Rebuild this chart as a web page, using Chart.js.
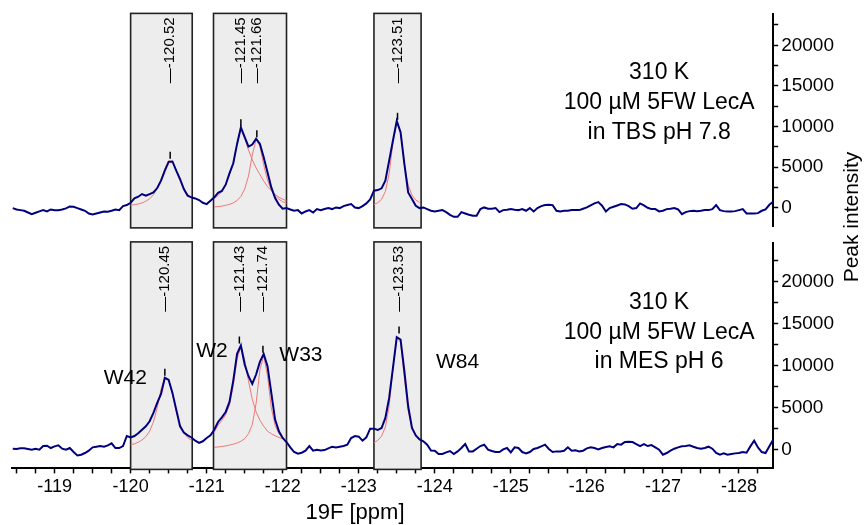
<!DOCTYPE html>
<html lang="en">
<head>
<meta charset="UTF-8">
<title>19F NMR of 5FW LecA</title>
<style>
  html, body { margin: 0; padding: 0; background: #fff; }
  #wrap { position: relative; width: 868px; height: 525px; }
</style>
<script src="https://cdn.jsdelivr.net/npm/chart.js"></script>
</head>
<body>
<div id="wrap"><canvas id="nmr" width="868" height="525"></canvas></div>
<script>
const FONT = 'Arial, "Liberation Sans", sans-serif';

// both spectra sampled every 0.05 ppm starting at -118.45 ppm
const ppmStart = -118.45;
const ppmStep = -0.05;

// top spectrum: TBS pH 7.8
const tbsIntensity = [
  -40, -210, -290, -370, -580, -780, -620, -450, -290, -450,
  -210, -290, -290, -210, -80, 160, 120, -40, -210, -370,
  -700, -820, -700, -580, -450, -490, -370, -210, -290, 210,
  330, 620,
  1150, 1360, 1690, 1480, 1690, 1890, 2430, 3340, 4570, 5650,
  5700, 4570, 3540, 2310, 1480, 1280, 1150, 950, 620, 450,
  870, 1280, 1850, 2060, 2840, 4240, 5480, 7860, 9900, 8690,
  7530, 7780, 8500, 7860, 6210, 4360, 2510, 1190, 370, -120,
  -40, -210, -370, -290, -700, -450, -290, -580, -160, -290,
  -160, -40, -160, 40, -40, 210, 330, 450, 40, -40,
  210, 540, 1030, 2100, 2180, 2390, 3340, 5800, 8280, 10700,
  9300, 5390, 1890, 1070, 240, -40, 40, -160, -370, -450,
  -370, -288, -535, -865, -1111, -1111, -535, -700, -865, -988,
  -988, -165, 41, -123, -123, -41, -535, -288, -247, -165,
  -247, -288, -165, -370, -41, -453, -41, 206, 329, 370,
  329, -370, -453, -370, -370, -288, -288, -288, -123, 41,
  288, 535, 700, 247, -453, -41, 123, 288, 453, 412,
  206, -123, -41, 535, 288, 0, -165, -165, -453, -370,
  -165, -123, -41, -206, -782, -535, -412, -370, -412, -370,
  -288, -288, -165, 329, -288, -412, -453, -453, -412, -288,
  -165, -700, -700, -700, -659, -370, -206, 370, 750
];

// bottom spectrum: MES pH 6
const mesIntensity = [
  115, 76, 155, 155, 76, -4, 115, -4, 433, 473,
  195, 394, 513, 115, -4, 195, -282, -680, -600, -400,
  -123, 274, 354, 433, 354, 513, 752, 195, 195, 433,
  1627, 1467,
  1630, 1950, 2380, 2780, 3380, 4370, 5560, 6640, 8550, 8300,
  6760, 4770, 2780, 2030, 1700, 1450, 1070, 800, 1000, 1390,
  1700, 2380, 3300, 3850, 4490, 5680, 8230, 11410, 12400, 10140,
  8750, 7830, 8950, 10450, 11400, 9940, 6760, 3580, 2180, 1390,
  910, 274, -282, -480, -362, -123, 433, -123, -4, -84,
  -44, 155, 354, 274, 354, 433, 593, 1388, 1627, 1547,
  1070, 1467, 2500, 2500, 2340, 2580, 3780, 6160, 9740, 13400,
  13120, 9340, 5170, 2580, 1700, 1230, 990, 590, -100, -123,
  -520, -520, -322, -163, -520, -203, 195, 672, -203, -203,
  115, 433, 593, -4, -163, -282, -282, 36, 195, -322,
  274, 195, -282, -441, -282, 76, 195, 394, 593, 76,
  -282, -203, -203, -123, 274, -123, -84, -203, -123, 155,
  274, 195, 36, 195, 314, 394, 274, 672, 593, 911,
  950, 911, 672, 433, 672, 433, 553, 274, -4, -600,
  -400, -123, 115, 274, 394, 433, 513, 354, 195, 115,
  195, 354, 115, -400, -600, -441, -600, -520, -441, -400,
  -282, -362, 394, 1070, 274, -282, -400, 394, 1190
];

// deconvolution fits (Lorentzian lines) inside the three integration regions
const fitPpm1 = [-120.00, -120.05, -120.10, -120.15, -120.20, -120.25, -120.30, -120.35, -120.40,
  -120.45, -120.50, -120.55, -120.60, -120.65, -120.70, -120.75, -120.80];
const fitPpm2 = [-121.10, -121.15, -121.20, -121.25, -121.30, -121.35, -121.40, -121.45, -121.50, -121.55,
  -121.60, -121.65, -121.70, -121.75, -121.80, -121.85, -121.90, -121.95, -122.00, -122.05];
const fitPpm3 = [-123.20, -123.25, -123.30, -123.35, -123.40, -123.45, -123.50, -123.55, -123.60,
  -123.65, -123.70, -123.75, -123.80];

const tbsFit1 = [300, 380, 470, 600, 800, 1100, 1600, 2400, 3500, 4800, 5800, 5700, 4600, 3300, 2300, 1650, 1200];
const tbsFit2a = [1150, 1500, 2000, 2800, 4100, 5500, 7800, 9700, 8600, 7100, 5900, 4900, 4100, 3300, 2600, 2100, 1650, 1300, 1050, 850];
const tbsFit2b = [100, 150, 200, 300, 420, 600, 900, 1400, 2300, 3900, 6500, 8400, 7600, 5300, 3400, 2200, 1500, 1050, 750, 550];
const tbsFit3 = [400, 620, 1050, 2000, 4200, 8000, 10600, 9200, 5300, 2800, 1550, 950, 650];

const mesFit1 = [580, 700, 880, 1150, 1550, 2200, 3300, 5000, 7200, 8600, 8400, 6600, 4500, 3000, 2050, 1450, 1080];
const mesFit2a = [2100, 2900, 3500, 4150, 5300, 7600, 10800, 12300, 10700, 8200, 6000, 4500, 3500, 2800, 2200, 1900, 1650, 1450, 1300, 1150];
const mesFit2b = [270, 320, 380, 450, 540, 650, 800, 1000, 1300, 1900, 3000, 5500, 9500, 11200, 8800, 5000, 2900, 1900, 1350, 1000];
const mesFit3 = [800, 1100, 1600, 2700, 5200, 9800, 13300, 12800, 8500, 4600, 2600, 1650, 1150];

// picked peaks
const tbsPeakPpm = [-120.52, -121.45, -121.66, -123.51];
const tbsPeakHeight = [5900, 9900, 8560, 10700];
const mesPeakPpm = [-120.45, -121.43, -121.74, -123.53];
const mesPeakHeight = [8670, 12520, 11410, 13720];

// integration regions (ppm)
const regionFrom = [-120.00, -121.09, -123.20];
const regionTo = [-120.81, -122.05, -123.82];

// axis ticks (labels only on whole ppm / every 5000)
const ppmTicks = [-118.5, -118.75, -119, -119.25, -119.5, -119.75, -120, -120.25, -120.5, -120.75,
  -121, -121.25, -121.5, -121.75, -122, -122.25, -122.5, -122.75, -123, -123.25, -123.5, -123.75,
  -124, -124.25, -124.5, -124.75, -125, -125.25, -125.5, -125.75, -126, -126.25, -126.5, -126.75,
  -127, -127.25, -127.5, -127.75, -128, -128.25];
const intensityTicks = [0, 2500, 5000, 7500, 10000, 12500, 15000, 17500, 20000, 22500];

const tbsLabel = ['310 K', '100 µM 5FW LecA', 'in TBS pH 7.8'];
const mesLabel = ['310 K', '100 µM 5FW LecA', 'in MES pH 6'];
const residues = ['W42', 'W2', 'W33', 'W84'];

const ppmAxis = tbsIntensity.map((_, i) => +(ppmStart + i * ppmStep).toFixed(2));
const pts = (xs, ys) => ys.map((v, i) => ({x: xs[i], y: v}));

function trace(data, axis, color, width) {
  return {data, yAxisID: axis, borderColor: color, borderWidth: width,
    pointRadius: 0, fill: false, tension: 0};
}

const NAVY = '#00007f';
const FIT = '#f07878';

const datasets = [
  trace(pts(ppmAxis, tbsIntensity), 'yT', NAVY, 2),
  trace(pts(ppmAxis, mesIntensity), 'yB', NAVY, 2),
  trace(pts(fitPpm1, tbsFit1), 'yT', FIT, 1),
  trace(pts(fitPpm2, tbsFit2a), 'yT', FIT, 1),
  trace(pts(fitPpm2, tbsFit2b), 'yT', FIT, 1),
  trace(pts(fitPpm3, tbsFit3), 'yT', FIT, 1),
  trace(pts(fitPpm1, mesFit1), 'yB', FIT, 1),
  trace(pts(fitPpm2, mesFit2a), 'yB', FIT, 1),
  trace(pts(fitPpm2, mesFit2b), 'yB', FIT, 1),
  trace(pts(fitPpm3, mesFit3), 'yB', FIT, 1)
];

const isWhole = (v, step) => Math.abs(v / step - Math.round(v / step)) < 1e-6;

function intensityAxis(weight, min, max) {
  return {
    type: 'linear', position: 'right', stack: 'panels', stackWeight: weight,
    min, max,
    afterBuildTicks: axis => { axis.ticks = intensityTicks.map(value => ({value})); },
    border: {color: '#000', width: 2},
    grid: {drawOnChartArea: false, tickLength: 5, tickColor: '#000', tickWidth: 1.5},
    ticks: {
      autoSkip: false, padding: 3,
      color: '#000', font: {family: FONT, size: 19},
      callback: v => isWhole(v, 5000) ? String(v) : ''
    }
  };
}

const decor = {
  id: 'decor',
  beforeDatasetsDraw(chart) {
    const {ctx} = chart;
    const x = chart.scales.x;
    ['yT', 'yB'].forEach(id => {
      const y = chart.scales[id];
      regionFrom.forEach((from, i) => {
        const x0 = x.getPixelForValue(from);
        const x1 = x.getPixelForValue(regionTo[i]);
        ctx.save();
        ctx.fillStyle = '#ededed';
        ctx.fillRect(x0, y.top - 1, x1 - x0, y.bottom - y.top + 2);
        ctx.strokeStyle = '#222';
        ctx.lineWidth = 1.6;
        ctx.strokeRect(x0, y.top - 1, x1 - x0, y.bottom - y.top + 2);
        ctx.restore();
      });
    });
  },
  afterDatasetsDraw(chart) {
    const {ctx} = chart;
    const x = chart.scales.x;
    const panels = [['yT', tbsPeakPpm, tbsPeakHeight], ['yB', mesPeakPpm, mesPeakHeight]];
    panels.forEach(([id, ppm, height]) => {
      const y = chart.scales[id];
      ppm.forEach((p, i) => {
        const px = x.getPixelForValue(p);
        const py = y.getPixelForValue(height[i]);
        ctx.save();
        ctx.strokeStyle = '#000';
        ctx.lineWidth = 1.5;
        ctx.beginPath();
        ctx.moveTo(px, py - 1);
        ctx.lineTo(px, py - 8);
        ctx.stroke();
        ctx.translate(px, y.top + 3);
        ctx.rotate(-Math.PI / 2);
        ctx.fillStyle = '#000';
        ctx.font = '15px ' + FONT;
        ctx.textAlign = 'right';
        ctx.textBaseline = 'middle';
        ctx.fillText('\u2014' + p.toFixed(2), 0, 0);
        ctx.restore();
      });
    });
  },
  afterDraw(chart) {
    const {ctx} = chart;
    const x = chart.scales.x;
    const yT = chart.scales.yT;
    const yB = chart.scales.yB;
    ctx.save();
    ctx.fillStyle = '#000';
    ctx.textAlign = 'center';
    ctx.textBaseline = 'middle';

    // sample conditions
    ctx.font = '23px ' + FONT;
    const cx = x.getPixelForValue(-126.95);
    tbsLabel.forEach((t, i) => ctx.fillText(t, cx, yT.getPixelForValue(16670) + i * 30));
    mesLabel.forEach((t, i) => ctx.fillText(t, cx, yB.getPixelForValue(17450) + i * 29.5));

    // residue assignment
    ctx.font = '21px ' + FONT;
    const where = [[-119.93, 8500], [-121.07, 11730], [-122.24, 11290], [-124.30, 10450]];
    residues.forEach((r, i) => ctx.fillText(r, x.getPixelForValue(where[i][0]), yB.getPixelForValue(where[i][1])));

    // axis titles
    ctx.font = '22px ' + FONT;
    ctx.fillText('19F [ppm]', 355, 513);
    ctx.translate(852, 217);
    ctx.rotate(-Math.PI / 2);
    ctx.font = '21px ' + FONT;
    ctx.fillText('Peak intensity', 0, 0);
    ctx.restore();
  }
};

new Chart(document.getElementById('nmr'), {
  type: 'line',
  data: {datasets},
  options: {
    responsive: false,
    animation: false,
    events: [],
    layout: {padding: {left: 12, top: 14, right: 31, bottom: 24}},
    plugins: {legend: {display: false}, tooltip: {enabled: false}},
    scales: {
      x: {
        type: 'linear', position: 'bottom', reverse: true,
        min: -128.45, max: -118.44,
        afterBuildTicks: axis => { axis.ticks = ppmTicks.map(value => ({value})); },
        border: {color: '#000', width: 2},
        grid: {drawOnChartArea: false, tickLength: 5, tickColor: '#000', tickWidth: 1.5},
        ticks: {
          autoSkip: false, maxRotation: 0, padding: 3,
          color: '#000', font: {family: FONT, size: 18},
          callback: v => isWhole(v, 1) ? String(Math.round(v)) : ''
        }
      },
      yT: intensityAxis(212, -2350, 23800),
      gap: {
        type: 'linear', position: 'right', stack: 'panels', stackWeight: 16,
        ticks: {display: false}, grid: {display: false}, border: {display: false}
      },
      yB: intensityAxis(225, -2230, 24620)
    }
  },
  plugins: [decor]
});
</script>
</body>
</html>
